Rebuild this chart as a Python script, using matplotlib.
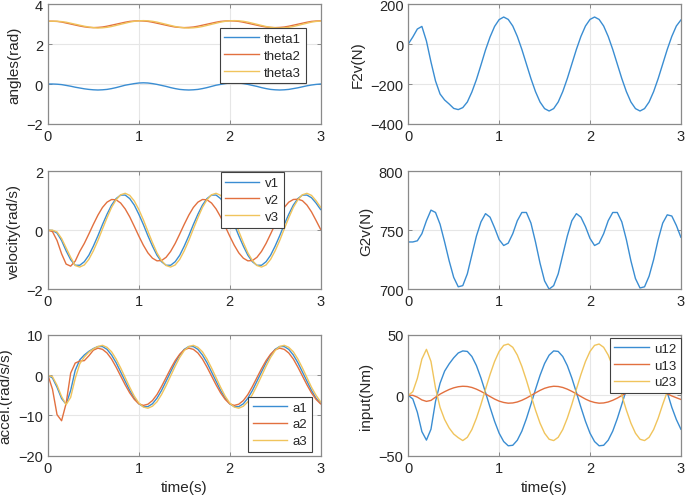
import numpy as np
import matplotlib
matplotlib.use("Agg")
import matplotlib.pyplot as plt

plt.rcParams['font.family'] = ['Liberation Sans', 'DejaVu Sans']

# sample times (0 to 3 s, every 0.05 s)
t = np.linspace(0, 3, 61)

# angles (rad)
theta1 = [0, 0, -0.01, -0.03, -0.07, -0.11, -0.16, -0.2, -0.24, -0.27, -0.29,
          -0.3, -0.29, -0.27, -0.23, -0.18, -0.12, -0.06, -0.02, 0.02, 0.05,
          0.06, 0.05, 0.02, -0.02, -0.07, -0.12, -0.18, -0.23, -0.27, -0.29,
          -0.3, -0.29, -0.27, -0.23, -0.18, -0.12, -0.06, -0.02, 0.02, 0.05,
          0.06, 0.05, 0.02, -0.02, -0.07, -0.12, -0.18, -0.23, -0.27, -0.29,
          -0.3, -0.29, -0.27, -0.23, -0.19, -0.14, -0.09, -0.05, -0.02, 0.0]
theta2 = [3.14, 3.14, 3.13, 3.1, 3.05, 3.0, 2.95, 2.9, 2.86, 2.83,
          2.82, 2.83, 2.85, 2.89, 2.94, 2.99, 3.04, 3.09, 3.13, 3.15,
          3.16, 3.15, 3.13, 3.09, 3.04, 2.99, 2.94, 2.89, 2.85, 2.83,
          2.82, 2.83, 2.85, 2.89, 2.94, 2.99, 3.04, 3.09, 3.13, 3.15,
          3.16, 3.15, 3.13, 3.09, 3.04, 2.99, 2.94, 2.89, 2.85, 2.83,
          2.82, 2.83, 2.85, 2.89, 2.94, 2.99, 3.04, 3.09, 3.13, 3.15, 3.16]
theta3 = [3.14, 3.14, 3.14, 3.12, 3.09, 3.04, 2.99, 2.94, 2.89, 2.85, 2.82,
          2.8, 2.81, 2.835, 2.875, 2.93, 2.985, 3.04, 3.095, 3.135, 3.16,
          3.17, 3.16, 3.135, 3.095, 3.04, 2.985, 2.93, 2.875, 2.835, 2.81,
          2.8, 2.81, 2.835, 2.875, 2.93, 2.985, 3.04, 3.095, 3.135, 3.16,
          3.17, 3.16, 3.135, 3.095, 3.04, 2.985, 2.93, 2.875, 2.835, 2.81,
          2.8, 2.81, 2.835, 2.875, 2.93, 2.985, 3.04, 3.095, 3.13, 3.15]

# velocity (rad/s)
v1 = [0, -0.01, -0.1, -0.35, -0.7, -1.0,
      -1.19, -1.19, -1.07, -0.85, -0.54, -0.19, 0.19, 0.54, 0.85, 1.07,
      1.19, 1.19, 1.07, 0.85, 0.54, 0.19, -0.19, -0.54, -0.85, -1.07,
      -1.19, -1.19, -1.07, -0.85, -0.54, -0.19, 0.19, 0.54, 0.85, 1.07,
      1.19, 1.19, 1.07, 0.85, 0.54, 0.19, -0.19, -0.54, -0.85, -1.07,
      -1.19, -1.19, -1.07, -0.85, -0.54, -0.19, 0.19, 0.54, 0.85, 1.07,
      1.19, 1.19, 1.1, 0.92, 0.7]
v2 = [0, -0.05, -0.35, -0.8, -1.15, -1.22, -1.05, -0.72, -0.45,
      -0.13, 0.2, 0.51, 0.77, 0.95, 1.04, 1.03, 0.92, 0.72, 0.45,
      0.13, -0.2, -0.51, -0.77, -0.95, -1.04, -1.03, -0.92, -0.72, -0.45,
      -0.13, 0.2, 0.51, 0.77, 0.95, 1.04, 1.03, 0.92, 0.72, 0.45,
      0.13, -0.2, -0.51, -0.77, -0.95, -1.04, -1.03, -0.92, -0.72, -0.45,
      -0.13, 0.2, 0.51, 0.77, 0.95, 1.04, 1.05, 1.0, 0.85, 0.62, 0.33, 0.03]
v3 = [0, 0, -0.06, -0.28, -0.6, -0.92,
      -1.2, -1.25, -1.18, -0.99, -0.7, -0.35, 0.04, 0.42, 0.77, 1.03,
      1.2, 1.25, 1.18, 0.99, 0.7, 0.35, -0.04, -0.42, -0.77, -1.03,
      -1.2, -1.25, -1.18, -0.99, -0.7, -0.35, 0.04, 0.42, 0.77, 1.03,
      1.2, 1.25, 1.18, 0.99, 0.7, 0.35, -0.04, -0.42, -0.77, -1.03,
      -1.2, -1.25, -1.18, -0.99, -0.7, -0.35, 0.04, 0.42, 0.77, 1.03,
      1.2, 1.25, 1.18, 1.0, 0.78]

# acceleration (rad/s/s)
a1 = [0, -0.7, -3.0, -5.8, -7.2, -3.8, 1.2, 3.8, 5.0, 5.9, 6.6,
      7.1, 7.1, 6.4, 5.0, 3.1, 0.8, -1.5, -3.8, -5.7, -7.1,
      -7.8, -7.8, -7.1, -5.7, -3.8, -1.5, 0.8, 3.1, 5.0, 6.4,
      7.1, 7.1, 6.4, 5.0, 3.1, 0.8, -1.5, -3.8, -5.7, -7.1,
      -7.8, -7.8, -7.1, -5.7, -3.8, -1.5, 0.8, 3.1, 5.0, 6.4,
      7.1, 7.1, 6.4, 5.0, 3.1, 0.8, -1.5, -3.8, -5.7, -7.0]
a2 = [0, -3.5, -9.8, -11.3, -7.0, 0.5, 3.0, 3.5, 3.6, 4.8, 6.2,
      6.7, 6.4, 5.5, 4.0, 2.0, -0.2, -2.4, -4.4, -6.0, -7.1,
      -7.5, -7.2, -6.3, -4.8, -2.8, -0.6, 1.6, 3.6, 5.2, 6.3,
      6.7, 6.4, 5.5, 4.0, 2.0, -0.2, -2.4, -4.4, -6.0, -7.1,
      -7.5, -7.2, -6.3, -4.8, -2.8, -0.6, 1.6, 3.6, 5.2, 6.3,
      6.7, 6.4, 5.5, 4.0, 2.0, -0.2, -2.4, -4.4, -6.0, -7.1]
a3 = [0, -0.4, -2.5, -5.3, -7.3, -5.5, -0.8, 2.8, 4.5, 5.7, 6.5,
      7.1, 7.4, 6.9, 5.8, 4.0, 1.8, -0.6, -3.0, -5.2, -6.9,
      -7.9, -8.2, -7.7, -6.6, -4.8, -2.6, -0.2, 2.2, 4.4, 6.1,
      7.1, 7.4, 6.9, 5.8, 4.0, 1.8, -0.6, -3.0, -5.2, -6.9,
      -7.9, -8.2, -7.7, -6.6, -4.8, -2.6, -0.2, 2.2, 4.4, 6.1,
      7.1, 7.4, 6.9, 5.8, 4.0, 1.8, -0.6, -3.0, -5.0, -6.6]

# F2v (N)
F2v = [0, 35, 75, 88, 15, -90, -185, -250, -280, -300, -322,
       -328, -318, -290, -240, -178, -105, -30, 35, 88, 122,
       135, 123, 90, 38, -27, -100, -173, -238, -290, -323,
       -335, -323, -290, -238, -173, -100, -27, 38, 90, 123,
       135, 123, 90, 38, -27, -100, -173, -238, -290, -323,
       -335, -323, -290, -238, -173, -100, -27, 38, 90, 120]

# G2v (N)
G2v = [740, 740, 741, 747, 758, 767, 765, 755, 740, 724, 710,
       702, 703, 713, 729, 745, 757, 764, 761, 752, 742,
       737, 739, 747, 758, 765, 765, 756, 740, 722, 707,
       700, 703, 713, 729, 745, 758, 764, 761, 753, 743,
       737, 739, 747, 758, 765, 765, 757, 742, 724, 709,
       701, 702, 711, 725, 742, 756, 763, 762, 754, 744]

# inputs (Nm)
u12 = [0, -3, -14, -30, -37, -28, -5, 10, 20, 26, 31, 35,
       36.7, 36.3, 32.1, 24.6, 14.3, 2.4, -9.9, -21.5, -31.3, -38.2,
       -41.7, -41.3, -37.1, -29.6, -19.3, -7.4, 4.9, 16.5, 26.3, 33.2,
       36.7, 36.3, 32.1, 24.6, 14.3, 2.4, -9.9, -21.5, -31.3, -38.2,
       -41.7, -41.3, -37.1, -29.6, -19.3, -7.4, 4.9, 16.5, 26.3, 33.2,
       36.7, 36.3, 32.1, 24.6, 14.3, 2.4, -9.9, -20.0, -28.0]
u13 = [0, 0, -1.5, -3.8, -5.0, -4.2, -1.5, 1.0, 3.0, 4.8, 6.2, 7.1,
       7.5, 7.3, 6.5, 5.1, 3.3, 1.2, -1.0, -3.1, -4.8, -5.9,
       -6.5, -6.3, -5.5, -4.1, -2.3, -0.2, 2.0, 4.1, 5.8, 6.9,
       7.5, 7.3, 6.5, 5.1, 3.3, 1.2, -1.0, -3.1, -4.8, -5.9,
       -6.5, -6.3, -5.5, -4.1, -2.3, -0.2, 2.0, 4.1, 5.8, 6.9,
       7.5, 7.3, 6.5, 5.1, 3.3, 1.2, -0.5, -2.0, -3.4]
u23 = [0, 3, 14, 30, 38, 28, 6, -10, -20, -27, -32, -35,
       -37.4, -34.7, -28.3, -18.9, -7.5, 5.0, 17.2, 28.0, 36.3, 41.3,
       42.4, 39.7, 33.3, 23.9, 12.5, 0.0, -12.2, -23.0, -31.3, -36.3,
       -37.4, -34.7, -28.3, -18.9, -7.5, 5.0, 17.2, 28.0, 36.3, 41.3,
       42.4, 39.7, 33.3, 23.9, 12.5, 0.0, -12.2, -23.0, -31.3, -36.3,
       -37.4, -34.7, -28.3, -18.9, -7.5, 3.0, 15.0, 25.0, 33.0]

c1, c2, c3 = '#3a8dd2', '#e2703f', '#f0c45c'
axis_col = '#8a8a8a'
text_col = '#262626'
lab = 11


def style(ax, ylim, yticks):
    ax.set_xlim(0, 3)
    ax.set_ylim(*ylim)
    ax.set_xticks([0, 1, 2, 3])
    ax.set_yticks(yticks)
    ax.grid(True, color='#e6e6e6', linewidth=0.8)
    ax.set_axisbelow(True)
    ax.tick_params(direction='in', length=3, width=0.7, top=True, right=True,
                   colors=axis_col, labelcolor=text_col, labelsize=10.5)
    for s in ax.spines.values():
        s.set_color(axis_col)
        s.set_linewidth(0.9)


def leg(ax, **kw):
    lg = ax.legend(fontsize=9.5, handlelength=2.6, frameon=True, fancybox=False,
                   edgecolor='#404040', framealpha=1, borderaxespad=0,
                   labelspacing=0.35, borderpad=0.35, handletextpad=0.4, **kw)
    lg.get_frame().set_linewidth(0.8)
    for txt in lg.get_texts():
        txt.set_color(text_col)


fig = plt.figure(figsize=(6.85, 5.02), dpi=100)
L, R, W = 0.070, 0.596, 0.398
ax1 = fig.add_axes([L, 0.751, W, 0.239])
ax2 = fig.add_axes([R, 0.751, W, 0.239])
ax3 = fig.add_axes([L, 0.422, W, 0.235])
ax4 = fig.add_axes([R, 0.422, W, 0.235])
ax5 = fig.add_axes([L, 0.090, W, 0.241])
ax6 = fig.add_axes([R, 0.090, W, 0.241])

lw = 1.0
ax1.plot(t, theta1, color=c1, lw=lw, label='theta1')
ax1.plot(t, theta2, color=c2, lw=lw, label='theta2')
ax1.plot(t, theta3, color=c3, lw=lw, label='theta3')
style(ax1, (-2, 4), [-2, 0, 2, 4])
ax1.set_ylabel('angles(rad)', fontsize=lab, color=text_col)
leg(ax1, loc='upper right', bbox_to_anchor=(0.945, 0.8))

ax2.plot(t, F2v, color=c1, lw=lw)
style(ax2, (-400, 200), [-400, -200, 0, 200])
ax2.set_ylabel('F2v(N)', fontsize=lab, color=text_col)

ax3.plot(t, v1, color=c1, lw=lw, label='v1')
ax3.plot(t, v2, color=c2, lw=lw, label='v2')
ax3.plot(t, v3, color=c3, lw=lw, label='v3')
style(ax3, (-2, 2), [-2, 0, 2])
ax3.set_ylabel('velocity(rad/s)', fontsize=lab, color=text_col)
leg(ax3, loc='upper right', bbox_to_anchor=(0.864, 0.99))

ax4.plot(t, G2v, color=c1, lw=lw)
style(ax4, (700, 800), [700, 750, 800])
ax4.set_ylabel('G2v(N)', fontsize=lab, color=text_col)

ax5.plot(t, a1, color=c1, lw=lw, label='a1')
ax5.plot(t, a2, color=c2, lw=lw, label='a2')
ax5.plot(t, a3, color=c3, lw=lw, label='a3')
style(ax5, (-20, 10), [-20, -10, 0, 10])
ax5.set_ylabel('accel.(rad/s/s)', fontsize=lab, color=text_col)
ax5.set_xlabel('time(s)', fontsize=lab, color=text_col)
leg(ax5, loc='lower right', bbox_to_anchor=(0.967, 0.033))

ax6.plot(t, u12, color=c1, lw=lw, label='u12')
ax6.plot(t, u13, color=c2, lw=lw, label='u13')
ax6.plot(t, u23, color=c3, lw=lw, label='u23')
style(ax6, (-50, 50), [-50, 0, 50])
ax6.set_ylabel('input(Nm)', fontsize=lab, color=text_col)
ax6.set_xlabel('time(s)', fontsize=lab, color=text_col)
leg(ax6, loc='upper right', bbox_to_anchor=(1.0, 0.975))

fig.savefig('out.png', dpi=100)
